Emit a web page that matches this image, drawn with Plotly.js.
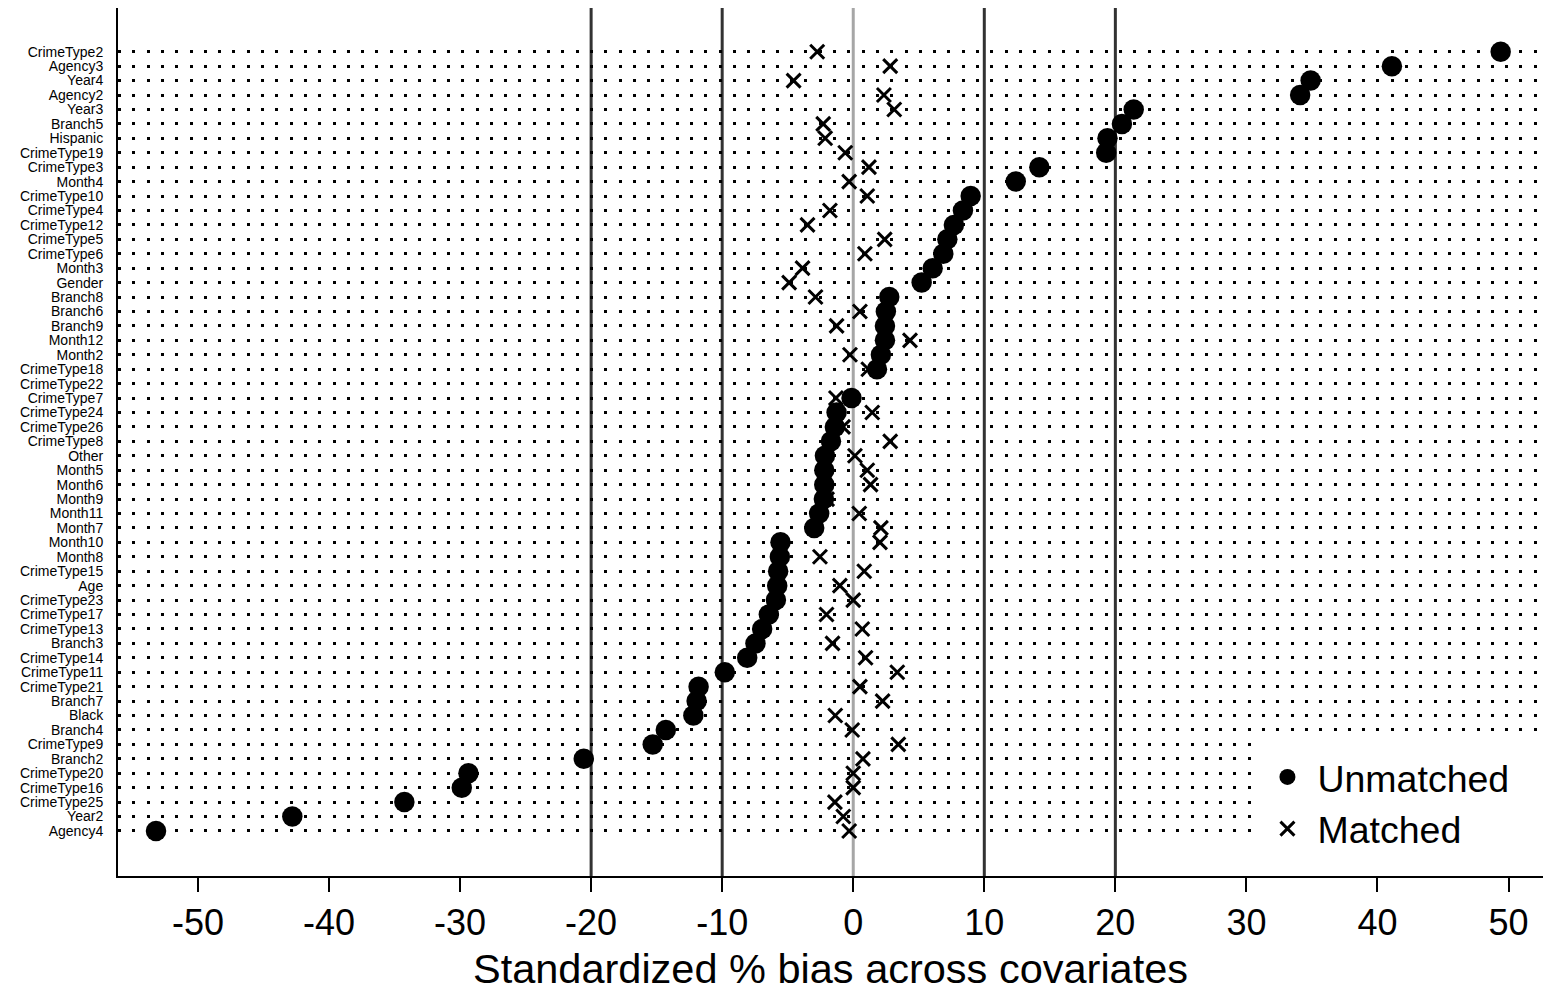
<!DOCTYPE html>
<html>
<head>
<meta charset="utf-8">
<script src="https://cdn.plot.ly/plotly-3.0.1.min.js"></script>
<style>html,body{margin:0;padding:0;background:#fff;}#chart{width:1543px;height:992px;}</style>
</head>
<body>
<div id="chart"></div>
<script>
// Covariates, top to bottom
var covariates = ["CrimeType2","Agency3","Year4","Agency2","Year3","Branch5","Hispanic","CrimeType19","CrimeType3","Month4",
"CrimeType10","CrimeType4","CrimeType12","CrimeType5","CrimeType6","Month3","Gender","Branch8","Branch6","Branch9",
"Month12","Month2","CrimeType18","CrimeType22","CrimeType7","CrimeType24","CrimeType26","CrimeType8","Other","Month5",
"Month6","Month9","Month11","Month7","Month10","Month8","CrimeType15","Age","CrimeType23","CrimeType17",
"CrimeType13","Branch3","CrimeType14","CrimeType11","CrimeType21","Branch7","Black","Branch4","CrimeType9","Branch2",
"CrimeType20","CrimeType16","CrimeType25","Year2","Agency4"];

// Standardized % bias, unmatched sample
var unmatched = [49.4,41.1,34.9,34.1,21.4,20.5,19.4,19.3,14.2,12.4,
8.96,8.37,7.68,7.18,6.87,6.06,5.22,2.75,2.49,2.42,
2.42,2.11,1.81,null,-0.13,-1.27,-1.40,-1.70,-2.16,-2.21,
-2.21,-2.24,-2.60,-2.98,-5.55,-5.60,-5.73,-5.80,-5.90,-6.44,
-6.95,-7.46,-8.09,-9.80,-11.8,-11.95,-12.2,-14.3,-15.3,-20.56,
-29.36,-29.87,-34.25,-42.8,-53.2];

// Standardized % bias, matched sample
var matched = [-2.75,2.82,-4.55,2.34,3.13,-2.29,-2.14,-0.61,1.20,-0.31,
1.07,-1.78,-3.49,2.40,0.89,-3.87,-4.89,-2.88,0.51,-1.27,
4.33,-0.25,1.15,null,-1.32,1.45,-0.78,2.82,0.13,1.07,
1.32,-2.0,0.46,2.11,2.04,-2.54,0.84,-1.02,0.0,-2.04,
0.69,-1.58,0.94,3.36,0.51,2.24,-1.37,-0.08,3.44,0.74,
0.0,0.0,-1.40,-0.76,-0.31];

var xTicks = [-50,-40,-30,-20,-10,0,10,20,30,40,50];
var refLinesDark = [-20,-10,10,20];
var refLineZero = 0;

var FONT = "Arial, 'Liberation Sans', sans-serif";

var traces = [
  {
    type: "scatter", mode: "markers", name: "Matched",
    x: matched, y: covariates, legendrank: 2, legendgroup: "m",
    marker: {symbol: "x-thin-open", size: 14, color: "#000", line: {width: 3, color: "#000"}},
    cliponaxis: false, hoverinfo: "x+y"
  },
  {
    type: "scatter", mode: "markers", name: "Unmatched",
    x: unmatched, y: covariates, legendrank: 1, legendgroup: "u",
    marker: {symbol: "circle", size: 20.5, color: "#000", line: {width: 0}},
    cliponaxis: false, hoverinfo: "x+y"
  }
];

// white area behind the legend (hides the dotted rows there)
var shapes = [{type: "rect", xref: "paper", yref: "paper", x0: 0.8014, x1: 1, y0: 0.004, y1: 0.159,
               fillcolor: "#fff", line: {width: 0}, layer: "above"}];
refLinesDark.forEach(function(v){
  shapes.push({type: "line", xref: "x", yref: "paper", x0: v, x1: v, y0: 0, y1: 1,
          line: {color: "#333333", width: 3}, layer: "between"});
});
shapes.push({type: "line", xref: "x", yref: "paper", x0: refLineZero, x1: refLineZero, y0: 0, y1: 1,
             line: {color: "#a6a6a6", width: 3}, layer: "between"});

var n = covariates.length;
var layout = {
  width: 1543, height: 992,
  margin: {l: 118, r: 0, t: 8, b: 116},
  paper_bgcolor: "#fff", plot_bgcolor: "#fff",
  font: {family: FONT, color: "#000"},
  showlegend: true,
  legend: {
    x: 0.7996, y: 0.1497, xanchor: "left", yanchor: "top",
    bgcolor: "#fff", borderwidth: 0,
    font: {family: FONT, size: 37.5, color: "#000"},
    itemwidth: 50,
    traceorder: "grouped", tracegroupgap: 0
  },
  xaxis: {
    range: [-56.1, 52.63],
    tickmode: "array", tickvals: xTicks, ticktext: xTicks.map(String),
    ticks: "outside", ticklen: 14, tickwidth: 2, tickcolor: "#000",
    showline: true, linewidth: 2, linecolor: "#000",
    showgrid: false, zeroline: false,
    tickfont: {family: FONT, size: 36, color: "#000"},
    title: {text: "Standardized % bias across covariates", font: {family: FONT, size: 41.5, color: "#000"}, standoff: 16}
  },
  yaxis: {
    type: "category",
    categoryorder: "array", categoryarray: covariates,
    range: [n - 1 + 3.12, -3.03],
    tickmode: "linear", tick0: 0, dtick: 1,
    ticks: "", ticklabelstandoff: 10,
    showline: true, linewidth: 2, linecolor: "#000",
    showgrid: true, gridcolor: "#000", gridwidth: 3, griddash: "3px,11.3px",
    zeroline: false,
    tickfont: {family: FONT, size: 14, color: "#000"}
  },
  shapes: shapes
};

Plotly.newPlot("chart", traces, layout, {displayModeBar: false, staticPlot: true});
</script>
</body>
</html>
